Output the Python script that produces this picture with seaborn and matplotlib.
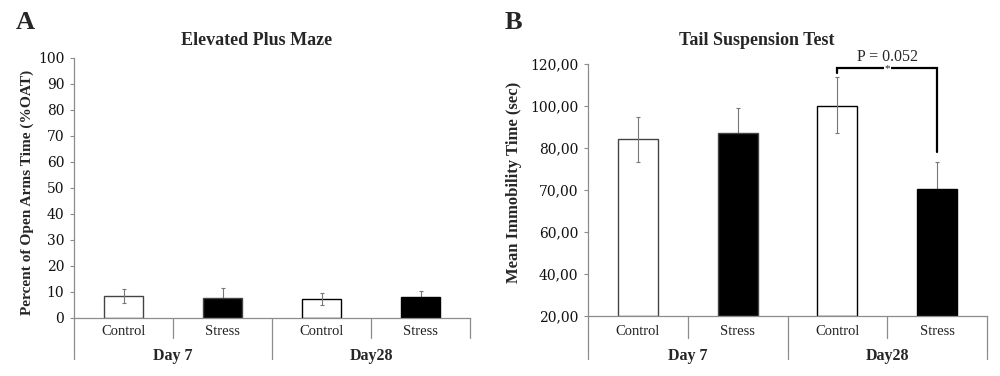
import numpy as np
import pandas as pd
import matplotlib
matplotlib.use("Agg")
import matplotlib.pyplot as plt
import seaborn as sns

# ---- data ----
days = ["Day 7", "Day 7", "Day28", "Day28"]
groups = ["Control", "Stress", "Control", "Stress"]

epm_mean = [8.3, 7.5, 7.2, 8.1]
epm_err = [2.6, 3.9, 2.2, 2.3]

tst_mean = [84.3, 87.1, 100.1, 70.3]
tst_lo = [76.7, 77.6, 87.1, 63.9]
tst_hi = [94.5, 99.1, 113.6, 76.7]

# panel B axis is labelled unevenly in the original; ticks are evenly spaced
tst_ticks = [20, 40, 60, 70, 80, 100, 120]
tst_ticklabels = ["20,00", "40,00", "60,00", "70,00", "80,00", "100,00", "120,00"]
epm_ticks = list(range(0, 101, 10))

sns.set_style("white")
plt.rcParams["font.family"] = ["Liberation Serif", "DejaVu Serif"]

AXIS_COL = "#8c8c8c"
palette = {"Control": "white", "Stress": "black"}
edges = {"Control": "#444444", "Stress": "black"}


def make_df(means):
    return pd.DataFrame({"cond": [f"{g} {d}" for g, d in zip(groups, days)],
                         "group": groups, "day": days, "value": means})


def draw_bars(ax, df):
    sns.barplot(data=df, x="cond", y="value", hue="group", palette=palette,
                dodge=False, width=0.4, errorbar=None, legend=False,
                linewidth=1.0, ax=ax)
    for patch, g in zip(ax.patches, groups):
        patch.set_edgecolor(edges[g])
        patch.set_zorder(2)
    ax.set_xlim(-0.5, 3.5)
    ax.set_xlabel("")
    ax.set_xticks([])


def draw_errors(ax, means, lo, hi):
    x = np.arange(len(means))
    for i, g in enumerate(groups):
        z = 3 if g == "Control" else 1
        ax.errorbar(x[i], means[i], yerr=[[means[i] - lo[i]], [hi[i] - means[i]]],
                    fmt="none", ecolor="#777777", elinewidth=0.8,
                    capsize=1.5, capthick=0.8, zorder=z)


def draw_category_axis(ax, cat_y, day_y, short_y, long_y, right_long):
    tr = ax.get_xaxis_transform()
    for i, g in enumerate(groups):
        ax.text(i, cat_y, g, transform=tr, ha="center", va="center",
                fontsize=10.5, color="#222222")
    for j, d in enumerate(["Day 7", "Day28"]):
        ax.text(2 * j + 0.5, day_y, d, transform=tr, ha="center", va="center",
                fontsize=11.5, fontweight="bold")
    for xb in [-0.5, 0.5, 1.5, 2.5, 3.5]:
        long = xb in (-0.5, 1.5) or (xb == 3.5 and right_long)
        ax.plot([xb, xb], [0, long_y if long else short_y], transform=tr,
                color=AXIS_COL, lw=0.9, clip_on=False)


def style_axes(ax):
    sns.despine(ax=ax, top=True, right=True)
    for s in ["left", "bottom"]:
        ax.spines[s].set_color(AXIS_COL)
        ax.spines[s].set_linewidth(0.9)
    ax.tick_params(axis="y", which="major", left=True, length=3, width=0.8,
                   color=AXIS_COL, pad=4)
    for lab in ax.get_yticklabels():
        lab.set_fontfamily("DejaVu Serif")
        lab.set_fontsize(10)
        lab.set_color("#111111")


fig = plt.figure(figsize=(10, 3.76), dpi=100)
axA = fig.add_axes([0.074, 0.155, 0.396, 0.691])
axB = fig.add_axes([0.588, 0.160, 0.399, 0.670])

# ---- A: Elevated Plus Maze ----
draw_bars(axA, make_df(epm_mean))
draw_errors(axA, epm_mean, np.subtract(epm_mean, epm_err), np.add(epm_mean, epm_err))
axA.set_ylim(0, 100)
axA.set_yticks(epm_ticks)
axA.set_ylabel("Percent of Open Arms Time (%OAT)", fontsize=11.1, fontweight="bold")
axA.yaxis.set_label_coords(-0.101, 0.484)
style_axes(axA)
draw_category_axis(axA, -0.054, -0.146, -0.077, -0.16, right_long=False)
fig.text(0.257, 0.892, "Elevated Plus Maze", ha="center", va="center",
         fontsize=13, fontweight="bold")
fig.text(0.025, 0.94, "A", ha="center", va="center", fontsize=19, fontweight="bold")

# ---- B: Tail Suspension Test ----
pos = np.arange(len(tst_ticks))
fwd = lambda v: np.interp(v, tst_ticks, pos)
inv = lambda p: np.interp(p, pos, tst_ticks)
draw_bars(axB, make_df(tst_mean))
draw_errors(axB, tst_mean, tst_lo, tst_hi)
axB.set_yscale("function", functions=(fwd, inv))
axB.set_ylim(20, 120)
axB.set_yticks(tst_ticks)
axB.set_yticklabels(tst_ticklabels)
axB.set_ylabel("Mean Immobility Time (sec)", fontsize=12, fontweight="bold")
axB.yaxis.set_label_coords(-0.165, 0.531)
style_axes(axB)
draw_category_axis(axB, -0.064, -0.159, -0.087, -0.173, right_long=True)
fig.text(0.757, 0.892, "Tail Suspension Test", ha="center", va="center",
         fontsize=13, fontweight="bold")
fig.text(0.513, 0.94, "B", ha="center", va="center", fontsize=19, fontweight="bold")

# significance bracket between Day28 groups
br_y = 117.9
axB.plot([2, 2, 3, 3], [115.8, br_y, br_y, 79.1], color="black", lw=1.6,
         solid_joinstyle="miter", clip_on=False, zorder=4)
axB.text(2.5, br_y, "*", ha="center", va="center", fontsize=8,
         bbox=dict(facecolor="white", edgecolor="none", pad=0.5), zorder=5)
axB.text(2.5, br_y + 1.5, "P = 0.052", ha="center", va="bottom", fontsize=11.5)

fig.savefig("out.png", dpi=100)
